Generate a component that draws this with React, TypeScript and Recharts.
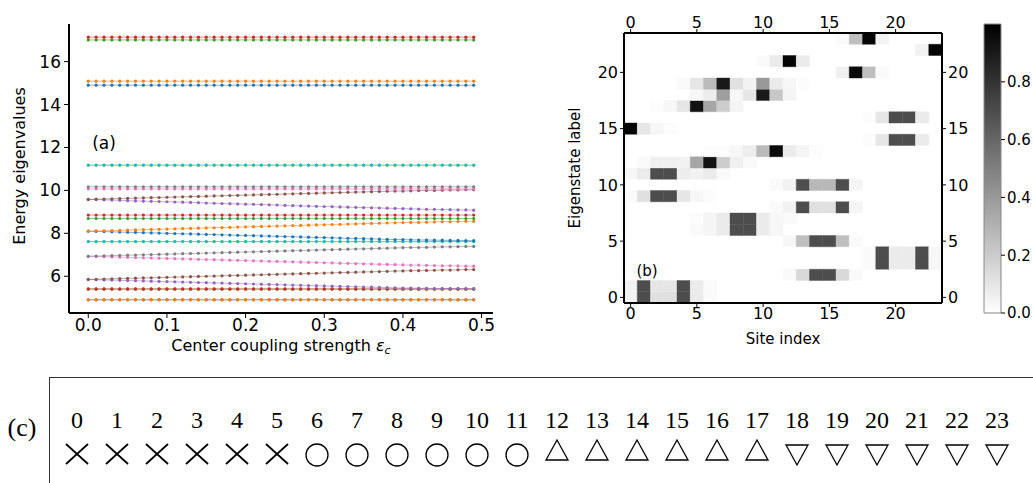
import React from 'react';
import { LineChart, Line, XAxis, YAxis, ScatterChart, Scatter, ReferenceArea } from 'recharts';

// ---------- Panel (a) data ----------
const eps = [
  0, 0.01, 0.02, 0.03, 0.04, 0.05, 0.06, 0.07, 0.08, 0.09,
  0.1, 0.11, 0.12, 0.13, 0.14, 0.15, 0.16, 0.17, 0.18, 0.19,
  0.2, 0.21, 0.22, 0.23, 0.24, 0.25, 0.26, 0.27, 0.28, 0.29,
  0.3, 0.31, 0.32, 0.33, 0.34, 0.35, 0.36, 0.37, 0.38, 0.39,
  0.4, 0.41, 0.42, 0.43, 0.44, 0.45, 0.46, 0.47, 0.48, 0.49,
];
const s0 = [4.9,4.9,4.9,4.9,4.9,4.9,4.9,4.9,4.9,4.9,4.9,4.9,4.9,4.9,4.9,4.9,4.9,4.9,4.9,4.9,4.9,4.9,4.9,4.9,4.9,4.9,4.9,4.9,4.9,4.9,4.9,4.9,4.9,4.9,4.9,4.9,4.9,4.9,4.9,4.9,4.9,4.9,4.9,4.9,4.9,4.9,4.9,4.9,4.9,4.9];
const s1 = [4.91,4.91,4.91,4.91,4.91,4.91,4.91,4.91,4.91,4.91,4.91,4.91,4.91,4.91,4.91,4.91,4.91,4.91,4.91,4.91,4.91,4.91,4.91,4.91,4.91,4.91,4.91,4.91,4.91,4.91,4.91,4.91,4.91,4.91,4.91,4.91,4.91,4.91,4.91,4.91,4.91,4.91,4.91,4.91,4.91,4.91,4.91,4.91,4.91,4.91];
const s2 = [5.4,5.4,5.4,5.4,5.4,5.4,5.4,5.4,5.4,5.4,5.4,5.4,5.4,5.4,5.4,5.4,5.4,5.4,5.4,5.4,5.4,5.4,5.4,5.4,5.4,5.4,5.4,5.4,5.4,5.4,5.4,5.4,5.4,5.4,5.4,5.4,5.4,5.4,5.4,5.4,5.4,5.4,5.4,5.4,5.4,5.4,5.4,5.4,5.4,5.4];
const s3 = [5.41,5.41,5.41,5.41,5.41,5.41,5.41,5.41,5.41,5.41,5.41,5.41,5.41,5.41,5.41,5.41,5.41,5.41,5.41,5.41,5.41,5.41,5.41,5.41,5.41,5.41,5.41,5.41,5.41,5.41,5.41,5.41,5.41,5.41,5.41,5.41,5.41,5.41,5.41,5.41,5.41,5.41,5.41,5.41,5.41,5.41,5.41,5.41,5.41,5.41];
const s4 = [5.85,5.84,5.83,5.82,5.81,5.8,5.79,5.78,5.77,5.76,5.75,5.74,5.73,5.72,5.71,5.7,5.69,5.68,5.67,5.66,5.65,5.64,5.63,5.62,5.61,5.6,5.59,5.58,5.57,5.56,5.55,5.54,5.53,5.52,5.51,5.5,5.49,5.48,5.47,5.46,5.45,5.45,5.44,5.44,5.43,5.43,5.43,5.42,5.42,5.42];
const s5 = [5.85,5.86,5.87,5.88,5.89,5.9,5.91,5.92,5.93,5.94,5.95,5.96,5.97,5.98,5.99,6,6.01,6.02,6.03,6.04,6.05,6.06,6.07,6.08,6.09,6.1,6.11,6.12,6.13,6.14,6.15,6.16,6.17,6.18,6.19,6.2,6.21,6.22,6.23,6.24,6.25,6.26,6.26,6.27,6.28,6.29,6.29,6.3,6.31,6.31];
const s6 = [6.93,6.92,6.91,6.9,6.89,6.88,6.87,6.86,6.85,6.84,6.83,6.82,6.81,6.8,6.79,6.78,6.77,6.76,6.75,6.74,6.73,6.72,6.71,6.7,6.69,6.68,6.67,6.66,6.65,6.64,6.63,6.62,6.61,6.6,6.59,6.58,6.57,6.56,6.55,6.54,6.53,6.52,6.52,6.51,6.5,6.49,6.49,6.48,6.47,6.47];
const s7 = [6.93,6.94,6.95,6.96,6.97,6.98,6.99,7,7.01,7.02,7.03,7.04,7.05,7.06,7.07,7.08,7.09,7.1,7.11,7.12,7.13,7.14,7.15,7.16,7.17,7.18,7.19,7.2,7.21,7.22,7.23,7.24,7.25,7.26,7.27,7.28,7.29,7.3,7.31,7.32,7.33,7.34,7.34,7.35,7.36,7.37,7.37,7.38,7.39,7.39];
const s8 = [7.61,7.61,7.61,7.61,7.61,7.61,7.61,7.61,7.61,7.61,7.61,7.61,7.61,7.61,7.61,7.61,7.61,7.61,7.61,7.61,7.61,7.61,7.61,7.61,7.61,7.61,7.61,7.61,7.61,7.61,7.61,7.61,7.61,7.61,7.61,7.61,7.61,7.61,7.61,7.61,7.61,7.61,7.61,7.61,7.61,7.61,7.61,7.61,7.61,7.61];
const s9 = [7.62,7.62,7.62,7.62,7.62,7.62,7.62,7.62,7.62,7.62,7.62,7.62,7.62,7.62,7.62,7.62,7.62,7.62,7.62,7.62,7.62,7.62,7.62,7.62,7.62,7.62,7.62,7.62,7.62,7.62,7.62,7.62,7.62,7.62,7.62,7.62,7.62,7.62,7.62,7.62,7.62,7.62,7.62,7.62,7.62,7.62,7.62,7.62,7.62,7.62];
const s10 = [8.1,8.09,8.08,8.07,8.06,8.05,8.04,8.03,8.02,8.01,8,7.99,7.98,7.97,7.96,7.95,7.94,7.93,7.92,7.91,7.9,7.89,7.88,7.87,7.86,7.85,7.84,7.83,7.82,7.81,7.8,7.79,7.78,7.77,7.76,7.75,7.74,7.73,7.72,7.71,7.71,7.7,7.69,7.69,7.68,7.68,7.67,7.67,7.66,7.66];
const s11 = [8.1,8.11,8.12,8.13,8.14,8.15,8.16,8.17,8.18,8.19,8.2,8.21,8.22,8.23,8.24,8.25,8.26,8.27,8.28,8.29,8.3,8.31,8.32,8.33,8.34,8.35,8.36,8.37,8.38,8.39,8.4,8.41,8.42,8.43,8.44,8.45,8.46,8.47,8.48,8.49,8.5,8.51,8.51,8.52,8.53,8.54,8.54,8.55,8.56,8.56];
const s12 = [8.69,8.69,8.69,8.69,8.69,8.69,8.69,8.69,8.69,8.69,8.69,8.69,8.69,8.69,8.69,8.69,8.69,8.69,8.69,8.69,8.69,8.69,8.69,8.69,8.69,8.69,8.69,8.69,8.69,8.69,8.69,8.69,8.69,8.69,8.69,8.69,8.69,8.69,8.69,8.69,8.69,8.69,8.69,8.69,8.69,8.69,8.69,8.69,8.69,8.69];
const s13 = [8.85,8.85,8.85,8.85,8.85,8.85,8.85,8.85,8.85,8.85,8.85,8.85,8.85,8.85,8.85,8.85,8.85,8.85,8.85,8.85,8.85,8.85,8.85,8.85,8.85,8.85,8.85,8.85,8.85,8.85,8.85,8.85,8.85,8.85,8.85,8.85,8.85,8.85,8.85,8.85,8.85,8.85,8.85,8.85,8.85,8.85,8.85,8.85,8.85,8.85];
const s14 = [9.58,9.57,9.56,9.55,9.54,9.52,9.51,9.5,9.49,9.48,9.47,9.46,9.45,9.44,9.43,9.41,9.4,9.39,9.38,9.37,9.36,9.35,9.34,9.33,9.32,9.3,9.29,9.28,9.27,9.26,9.25,9.24,9.23,9.22,9.21,9.2,9.19,9.18,9.17,9.16,9.15,9.14,9.13,9.12,9.12,9.11,9.1,9.09,9.09,9.08];
const s15 = [9.58,9.59,9.6,9.61,9.62,9.63,9.64,9.65,9.66,9.67,9.68,9.69,9.7,9.71,9.72,9.73,9.74,9.75,9.76,9.77,9.78,9.79,9.8,9.81,9.82,9.83,9.84,9.85,9.86,9.87,9.88,9.89,9.9,9.91,9.92,9.93,9.94,9.95,9.96,9.97,9.97,9.98,9.99,10,10,10.01,10.02,10.02,10.03,10.03];
const s16 = [10.07,10.07,10.07,10.07,10.07,10.07,10.07,10.07,10.07,10.07,10.07,10.07,10.07,10.07,10.07,10.07,10.07,10.07,10.07,10.07,10.07,10.07,10.07,10.07,10.07,10.07,10.07,10.07,10.07,10.07,10.07,10.07,10.07,10.07,10.07,10.07,10.07,10.07,10.07,10.07,10.07,10.07,10.07,10.07,10.07,10.07,10.07,10.07,10.07,10.07];
const s17 = [10.17,10.17,10.17,10.17,10.17,10.17,10.17,10.17,10.17,10.17,10.17,10.17,10.17,10.17,10.17,10.17,10.17,10.17,10.17,10.17,10.17,10.17,10.17,10.17,10.17,10.17,10.17,10.17,10.17,10.17,10.17,10.17,10.17,10.17,10.17,10.17,10.17,10.17,10.17,10.17,10.17,10.17,10.17,10.17,10.17,10.17,10.17,10.17,10.17,10.17];
const s18 = [11.17,11.17,11.17,11.17,11.17,11.17,11.17,11.17,11.17,11.17,11.17,11.17,11.17,11.17,11.17,11.17,11.17,11.17,11.17,11.17,11.17,11.17,11.17,11.17,11.17,11.17,11.17,11.17,11.17,11.17,11.17,11.17,11.17,11.17,11.17,11.17,11.17,11.17,11.17,11.17,11.17,11.17,11.17,11.17,11.17,11.17,11.17,11.17,11.17,11.17];
const s19 = [11.18,11.18,11.18,11.18,11.18,11.18,11.18,11.18,11.18,11.18,11.18,11.18,11.18,11.18,11.18,11.18,11.18,11.18,11.18,11.18,11.18,11.18,11.18,11.18,11.18,11.18,11.18,11.18,11.18,11.18,11.18,11.18,11.18,11.18,11.18,11.18,11.18,11.18,11.18,11.18,11.18,11.18,11.18,11.18,11.18,11.18,11.18,11.18,11.18,11.18];
const s20 = [14.9,14.9,14.9,14.9,14.9,14.9,14.9,14.9,14.9,14.9,14.9,14.9,14.9,14.9,14.9,14.9,14.9,14.9,14.9,14.9,14.9,14.9,14.9,14.9,14.9,14.9,14.9,14.9,14.9,14.9,14.9,14.9,14.9,14.9,14.9,14.9,14.9,14.9,14.9,14.9,14.9,14.9,14.9,14.9,14.9,14.9,14.9,14.9,14.9,14.9];
const s21 = [15.09,15.09,15.09,15.09,15.09,15.09,15.09,15.09,15.09,15.09,15.09,15.09,15.09,15.09,15.09,15.09,15.09,15.09,15.09,15.09,15.09,15.09,15.09,15.09,15.09,15.09,15.09,15.09,15.09,15.09,15.09,15.09,15.09,15.09,15.09,15.09,15.09,15.09,15.09,15.09,15.09,15.09,15.09,15.09,15.09,15.09,15.09,15.09,15.09,15.09];
const s22 = [17.01,17.01,17.01,17.01,17.01,17.01,17.01,17.01,17.01,17.01,17.01,17.01,17.01,17.01,17.01,17.01,17.01,17.01,17.01,17.01,17.01,17.01,17.01,17.01,17.01,17.01,17.01,17.01,17.01,17.01,17.01,17.01,17.01,17.01,17.01,17.01,17.01,17.01,17.01,17.01,17.01,17.01,17.01,17.01,17.01,17.01,17.01,17.01,17.01,17.01];
const s23 = [17.14,17.14,17.14,17.14,17.14,17.14,17.14,17.14,17.14,17.14,17.14,17.14,17.14,17.14,17.14,17.14,17.14,17.14,17.14,17.14,17.14,17.14,17.14,17.14,17.14,17.14,17.14,17.14,17.14,17.14,17.14,17.14,17.14,17.14,17.14,17.14,17.14,17.14,17.14,17.14,17.14,17.14,17.14,17.14,17.14,17.14,17.14,17.14,17.14,17.14];
const energySeries = [s0,s1,s2,s3,s4,s5,s6,s7,s8,s9,s10,s11,s12,s13,s14,s15,s16,s17,s18,s19,s20,s21,s22,s23];
const epsTicks = [0, 0.1, 0.2, 0.3, 0.4, 0.5];
const energyTicks = [6, 8, 10, 12, 14, 16];
const tab10 = ['#1f77b4','#ff7f0e','#2ca02c','#d62728','#9467bd','#8c564b','#e377c2','#7f7f7f','#bcbd22','#17becf'];

// ---------- Panel (b) data: heat[row = eigenstate][col = site] ----------
const heat = [
  [0.05,0.7,0.12,0.12,0.7,0.08,0.02,0,0,0,0,0,0,0,0,0,0,0,0,0,0,0,0,0],
  [0.05,0.7,0.1,0.1,0.7,0.08,0.02,0,0,0,0,0,0,0,0,0,0,0,0,0,0,0,0,0],
  [0,0,0,0,0,0,0,0,0,0,0,0,0.02,0.15,0.7,0.7,0.15,0.02,0,0,0,0,0,0],
  [0,0,0,0,0,0,0,0,0,0,0,0,0,0,0,0,0,0,0.02,0.7,0.08,0.08,0.7,0.03],
  [0,0,0,0,0,0,0,0,0,0,0,0,0,0,0,0,0,0,0.02,0.7,0.08,0.08,0.7,0.03],
  [0,0,0,0,0,0,0,0,0,0,0,0,0.03,0.25,0.7,0.7,0.25,0.02,0,0,0,0,0,0],
  [0,0,0,0,0,0.02,0.04,0.08,0.7,0.7,0.08,0.03,0,0,0,0,0,0,0,0,0,0,0,0],
  [0,0,0,0,0,0.01,0.04,0.08,0.7,0.7,0.08,0.03,0.02,0,0,0,0,0,0,0,0,0,0,0],
  [0,0,0,0,0,0,0,0,0,0,0,0.02,0.05,0.7,0.12,0.12,0.7,0.04,0,0,0,0,0,0],
  [0.02,0.12,0.7,0.7,0.1,0.03,0.01,0,0,0,0,0,0,0,0,0,0,0,0,0,0,0,0,0],
  [0,0,0,0,0,0,0,0,0,0,0,0.02,0.05,0.7,0.28,0.28,0.7,0.04,0,0,0,0,0,0],
  [0.03,0.08,0.7,0.7,0.07,0.05,0.08,0.02,0,0,0,0,0,0,0,0,0,0,0,0,0,0,0,0],
  [0,0.02,0.06,0.06,0.05,0.35,0.93,0.2,0.06,0.02,0,0,0,0,0,0,0,0,0,0,0,0,0,0],
  [0,0,0,0,0,0,0.01,0.01,0.03,0.07,0.27,0.96,0.08,0.04,0.01,0,0,0,0,0,0,0,0,0],
  [0,0,0,0,0,0,0,0,0,0,0,0,0,0,0,0,0,0,0.01,0.1,0.7,0.7,0.08,0],
  [1,0.1,0.03,0.01,0,0,0,0,0,0,0,0,0,0,0,0,0,0,0,0,0,0,0,0],
  [0,0,0,0,0,0,0,0,0,0,0,0,0,0,0,0,0,0,0.01,0.1,0.7,0.7,0.08,0],
  [0,0,0.01,0.03,0.1,0.93,0.35,0.2,0.04,0,0,0,0,0,0,0,0,0,0,0,0,0,0,0],
  [0,0,0,0,0,0.03,0.07,0.38,0.03,0.1,0.9,0.22,0.04,0,0,0,0,0,0,0,0,0,0,0],
  [0,0,0,0,0.02,0.1,0.27,0.9,0.12,0.05,0.4,0.08,0.03,0.01,0,0,0,0,0,0,0,0,0,0],
  [0,0,0,0,0,0,0,0,0,0,0,0,0,0,0,0,0.06,0.96,0.25,0.02,0,0,0,0],
  [0,0,0,0,0,0,0,0,0,0,0.02,0.08,0.98,0.08,0,0,0,0,0,0,0,0,0,0],
  [0,0,0,0,0,0,0,0,0,0,0,0,0,0,0,0,0,0,0,0,0,0,0.05,0.98],
  [0,0,0,0,0,0,0,0,0,0,0,0,0,0,0,0,0.02,0.25,0.98,0.05,0,0,0,0],
];
const heatTicks = [0, 5, 10, 15, 20];
const cbarTicks = [0, 0.2, 0.4, 0.6, 0.8];

// ---------- Panel (c) data ----------
const siteIndex = [0,1,2,3,4,5,6,7,8,9,10,11,12,13,14,15,16,17,18,19,20,21,22,23];
const siteMarker = ['x','x','x','x','x','x','o','o','o','o','o','o','up','up','up','up','up','up','down','down','down','down','down','down'];

// ---------- derived tables ----------
const rowsA = eps.map((e, i) => {
  const r: any = { eps: e };
  energySeries.forEach((s, k) => { r['s' + k] = s[i]; });
  return r;
});
const cells: { x: number; y: number; v: number }[] = [];
heat.forEach((row, r) => row.forEach((v, c) => { if (v > 0) cells.push({ x: c, y: r, v }); }));
const gray = (v: number) => { const g = Math.round(255 * (1 - v)); return `rgb(${g},${g},${g})`; };
const siteData = siteIndex.map((x, i) => ({ x, y: 0.5, m: siteMarker[i] }));

const SANS = 'DejaVu Sans';
const SERIF = 'Liberation Serif';

const Txt = ({ x, y, size, rot, family, children }: any) => (
  <div style={{ position: 'absolute', left: x, top: y, transform: `translate(-50%,-50%)${rot ? ' rotate(-90deg)' : ''}`,
    fontSize: size, fontFamily: family || SANS, whiteSpace: 'nowrap', lineHeight: 1, color: '#000' }}>{children}</div>
);

const none = () => null;

const Marker = (p: any) => {
  const { cx, cy, payload } = p;
  const m = payload.m;
  if (m === 'x') return <g stroke="#000" strokeWidth={1.8}><line x1={cx-11} y1={cy-10} x2={cx+11} y2={cy+10}/><line x1={cx-11} y1={cy+10} x2={cx+11} y2={cy-10}/></g>;
  if (m === 'o') return <circle cx={cx} cy={cy+1} r={11} fill="none" stroke="#000" strokeWidth={1.3}/>;
  if (m === 'up') return <polygon points={`${cx},${cy-14} ${cx-11},${cy+6} ${cx+11},${cy+6}`} fill="none" stroke="#000" strokeWidth={1.3}/>;
  return <polygon points={`${cx-11},${cy-9} ${cx+11},${cy-9} ${cx},${cy+11}`} fill="none" stroke="#000" strokeWidth={1.3}/>;
};

const SiteTick = (p: any) => (
  <text x={p.x} y={51} textAnchor="middle" fontFamily={SERIF} fontSize={24} fill="#000">{p.payload.value}</text>
);

const axisLine2 = { stroke: '#000', strokeWidth: 2 };
const tickA = { fill: '#000', fontSize: 17, fontFamily: SANS };
const tickB = { fill: '#000', fontSize: 16, fontFamily: SANS };

export default function App() {
  return (
    <div style={{ position: 'absolute', left: 0, top: 0, width: 1033, height: 483, background: '#fff', overflow: 'hidden' }}>
      {/* Panel (a) */}
      <div style={{ position: 'absolute', left: 0, top: 0 }}>
        <LineChart width={510} height={350} data={rowsA} margin={{ top: 24, right: 17, bottom: 7, left: 9 }}>
          <XAxis dataKey="eps" type="number" domain={[-0.0245, 0.5145]} allowDataOverflow ticks={epsTicks}
            tickFormatter={(v: number) => v.toFixed(1)} height={30} axisLine={axisLine2} tickLine={{ stroke: '#000' }}
            tickSize={5} tickMargin={1} tick={tickA} />
          <XAxis xAxisId="top" orientation="top" type="number" domain={[-0.0245, 0.5145]} height={0} tick={false} tickLine={false} axisLine={axisLine2} />
          <YAxis type="number" domain={[4.288, 17.752]} allowDataOverflow ticks={energyTicks} width={60}
            axisLine={axisLine2} tickLine={{ stroke: '#000' }} tickSize={5} tickMargin={3} tick={tickA} />
          <YAxis yAxisId="right" orientation="right" type="number" domain={[4.288, 17.752]} width={0} tick={false} tickLine={false} axisLine={axisLine2} />
          {energySeries.map((_, k) => (
            <Line key={k} dataKey={'s' + k} type="linear" stroke={tab10[k % 10]} strokeWidth={1} strokeOpacity={0.55}
              dot={{ r: 1.6, fill: tab10[k % 10], stroke: 'none', strokeWidth: 0 }} activeDot={false} isAnimationActive={false} />
          ))}
        </LineChart>
      </div>
      <Txt x={20} y={166} size={16} rot>Energy eigenvalues</Txt>
      <Txt x={104} y={143} size={17}>(a)</Txt>
      <Txt x={281} y={347} size={16}>Center coupling strength <span style={{ fontStyle: 'italic' }}>ε</span><span style={{ fontStyle: 'italic', fontSize: 11, verticalAlign: -3 }}>c</span></Txt>

      {/* Panel (b) heatmap */}
      <div style={{ position: 'absolute', left: 560, top: 0 }}>
        <ScatterChart width={420} height={350} margin={{ top: 8, right: 8, bottom: 22, left: 24 }}>
          <XAxis xAxisId="b" dataKey="x" type="number" domain={[-0.5, 23.5]} allowDataOverflow ticks={heatTicks} height={25}
            axisLine={axisLine2} tickLine={{ stroke: '#000' }} tickSize={4} tickMargin={1} tick={tickB} />
          <XAxis xAxisId="t" dataKey="x" orientation="top" type="number" domain={[-0.5, 23.5]} allowDataOverflow ticks={heatTicks} height={25}
            axisLine={axisLine2} tickLine={{ stroke: '#000' }} tickSize={4} tickMargin={1} tick={tickB} />
          <YAxis yAxisId="l" dataKey="y" type="number" domain={[-0.5, 23.5]} allowDataOverflow ticks={heatTicks} width={40}
            axisLine={axisLine2} tickLine={{ stroke: '#000' }} tickSize={4} tickMargin={2} tick={tickB} />
          <YAxis yAxisId="r" dataKey="y" orientation="right" type="number" domain={[-0.5, 23.5]} allowDataOverflow ticks={heatTicks} width={30}
            axisLine={axisLine2} tickLine={{ stroke: '#000' }} tickSize={4} tickMargin={2} tick={tickB} />
          {cells.map((d, i) => (
            <ReferenceArea key={i} xAxisId="b" yAxisId="l" x1={d.x - 0.5} x2={d.x + 0.5} y1={d.y - 0.5} y2={d.y + 0.5}
              fill={gray(d.v)} fillOpacity={1} stroke={gray(d.v)} strokeWidth={0.4} ifOverflow="visible" />
          ))}
          <Scatter data={cells} xAxisId="b" yAxisId="l" dataKey="y" shape={none} isAnimationActive={false} />
          <Scatter data={cells} xAxisId="t" yAxisId="r" dataKey="y" shape={none} isAnimationActive={false} />
        </ScatterChart>
      </div>
      <Txt x={575} y={168} size={15} rot>Eigenstate label</Txt>
      <Txt x={783} y={339} size={15}>Site index</Txt>
      <Txt x={647} y={271} size={15}>(b)</Txt>

      {/* Colorbar */}
      <div style={{ position: 'absolute', left: 970, top: 0 }}>
        <ScatterChart width={63} height={340} margin={{ top: 24, right: 0, bottom: 27, left: 14 }}>
          <defs>
            <linearGradient id="cbarGrad" x1="0" y1="1" x2="0" y2="0">
              <stop offset="0" stopColor="#ffffff" />
              <stop offset="1" stopColor="#000000" />
            </linearGradient>
          </defs>
          <XAxis dataKey="x" type="number" domain={[0, 1]} hide height={0} />
          <YAxis dataKey="y" orientation="right" type="number" domain={[0, 1]} allowDataOverflow ticks={cbarTicks}
            tickFormatter={(v: number) => v.toFixed(1)} width={32} axisLine={false} tickLine={{ stroke: '#000' }}
            tickSize={4} tickMargin={2} tick={{ fill: '#000', fontSize: 15, fontFamily: SANS }} />
          <ReferenceArea x1={0} x2={1} y1={0} y2={1} fill="url(#cbarGrad)" fillOpacity={1} stroke="#888" strokeWidth={1} ifOverflow="visible" />
          <Scatter data={[{ x: 0, y: 0 }, { x: 1, y: 1 }]} dataKey="y" shape={none} isAnimationActive={false} />
        </ScatterChart>
      </div>

      {/* Panel (c) */}
      <div style={{ position: 'absolute', left: 49, top: 377, width: 1000, height: 120, borderLeft: '1px solid #333', borderTop: '1px solid #333' }} />
      <Txt x={22} y={428} size={26} family={SERIF}>(c)</Txt>
      <div style={{ position: 'absolute', left: 49, top: 377 }}>
        <ScatterChart width={984} height={94} margin={{ top: 0, right: 16, bottom: 0, left: 8 }}>
          <XAxis dataKey="x" type="number" orientation="top" domain={[-0.5, 23.5]} ticks={siteIndex} interval={0}
            height={60} axisLine={false} tickLine={false} tick={SiteTick} />
          <YAxis dataKey="y" type="number" domain={[0, 1]} hide width={0} />
          <Scatter data={siteData} dataKey="y" shape={Marker} isAnimationActive={false} />
        </ScatterChart>
      </div>
    </div>
  );
}
